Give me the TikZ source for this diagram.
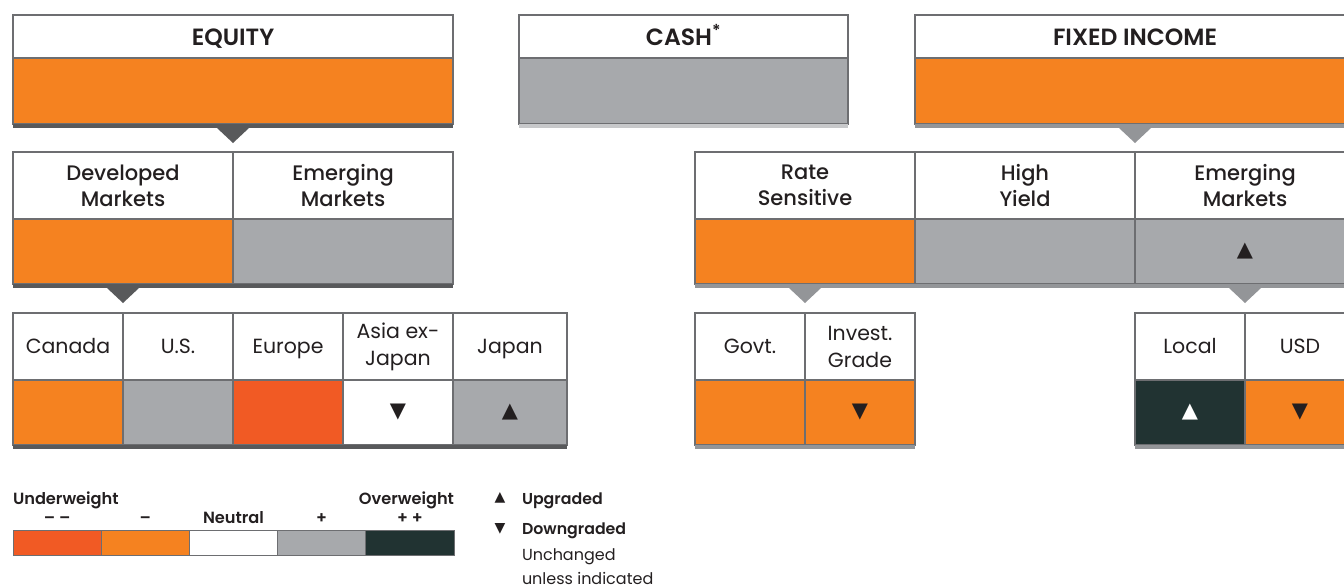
\documentclass[tikz,border=0pt]{standalone}
\usepackage{fontspec}
\setmainfont{Poppins}
\newfontfamily\semib{Poppins SemiBold}
\newfontfamily\medm{Poppins Medium}
\newfontfamily\symf{DejaVu Sans}
\usetikzlibrary{positioning}
\definecolor{orng}{HTML}{F58220}
\definecolor{redo}{HTML}{F15A24}
\definecolor{gry}{HTML}{A7A9AC}
\definecolor{drk}{HTML}{213332}
\definecolor{lineg}{HTML}{6D6E71}
\definecolor{bardk}{HTML}{58595B}
\definecolor{barmd}{HTML}{939598}
\definecolor{barlt}{HTML}{C7C8CA}
\definecolor{ink}{HTML}{231F20}
\begin{document}
\begin{tikzpicture}
[x=1pt,y=-1pt,
every node/.style={inner sep=0pt,outer sep=0pt,text=ink},
top/.style={draw=lineg,line width=1.2pt,fill=white,anchor=north west,minimum height=43pt,
  text height=20pt,text depth=1.5pt,font=\semib\fontsize{23.5}{26}\selectfont},
mid/.style={draw=lineg,line width=1.2pt,fill=white,anchor=north west,minimum height=67pt,align=center,
  font=\medm\fontsize{21}{26}\selectfont},
low/.style={draw=lineg,line width=1.2pt,fill=white,anchor=north west,minimum height=67pt,align=center,
  text height=17pt,text depth=2.6pt,font=\fontsize{20.5}{27}\selectfont},
two/.style={text height={},text depth={}},
band/.style={draw=lineg,line width=1.2pt,fill=#1,minimum height=65pt,font=\symf\fontsize{21}{21}\selectfont},
key/.style={draw=lineg,line width=0.8pt,fill=#1,minimum width=88.2pt,minimum height=25pt},
lgl/.style={font=\semib\fontsize{16.2}{16}\selectfont},
]
\useasboundingbox (0,0) rectangle (1344,587);

\node[top,minimum width=440pt] (eq) at (13,15) {EQUITY};
\node[band=orng,minimum width=440pt,minimum height=66pt,below=0pt of eq] (eqc) {};
\node[top,minimum width=329pt] (cash) at (519,15) {CASH\textsuperscript{*}};
\node[band=gry,minimum width=329pt,minimum height=66pt,below=0pt of cash] (cashc) {};
\node[top,minimum width=440pt] (fi) at (915,15) {FIXED INCOME};
\node[band=orng,minimum width=440pt,minimum height=66pt,below=0pt of fi] (fic) {};

\node[mid,minimum width=220pt] (dm) at (13,152) {Developed\\Markets};
\node[mid,minimum width=220pt,right=0pt of dm] (em) {Emerging\\Markets};
\node[band=orng,minimum width=220pt,below=0pt of dm] (dmc) {};
\node[band=gry,minimum width=220pt,below=0pt of em] (emc) {};
\node[mid,minimum width=220pt] (rs) at (695,152) {Rate\\Sensitive};
\node[mid,minimum width=220pt,right=0pt of rs] (hy) {High\\Yield};
\node[mid,minimum width=220pt,right=0pt of hy] (fem) {Emerging\\Markets};
\node[band=orng,minimum width=220pt,below=0pt of rs] (rsc) {};
\node[band=gry,minimum width=220pt,below=0pt of hy] (hyc) {};
\node[band=gry,minimum width=220pt,below=0pt of fem] (femc) {▲};

\node[low,minimum width=110pt] (ca) at (13,313) {Canada};
\node[low,minimum width=110pt,right=0pt of ca] (us) {U.S.};
\node[low,minimum width=110pt,right=0pt of us] (eu) {Europe};
\node[low,two,minimum width=110pt,right=0pt of eu] (ax) {Asia ex-\\Japan};
\node[low,minimum width=114pt,right=0pt of ax] (jp) {Japan};
\node[band=orng,minimum width=110pt,below=0pt of ca] (cac) {};
\node[band=gry,minimum width=110pt,below=0pt of us] (usc) {};
\node[band=redo,minimum width=110pt,below=0pt of eu] (euc) {};
\node[band=white,minimum width=110pt,below=0pt of ax] (axc) {▼};
\node[band=gry,minimum width=114pt,below=0pt of jp] (jpc) {▲};

\node[low,minimum width=110pt] (gv) at (695,313) {Govt.};
\node[low,two,minimum width=110pt,right=0pt of gv] (ig) {Invest.\\Grade};
\node[band=orng,minimum width=110pt,below=0pt of gv] (gvc) {};
\node[band=orng,minimum width=110pt,below=0pt of ig] (igc) {▼};
\node[low,minimum width=110pt] (lc) at (1135,313) {Local};
\node[low,minimum width=110pt,right=0pt of lc] (usd) {USD};
\node[band=drk,minimum width=110pt,below=0pt of lc,text=white] (lcc) {▲};
\node[band=orng,minimum width=110pt,below=0pt of usd] (usdc) {▼};

\foreach \c/\k in {eqc/bardk,cashc/barlt,fic/barmd,dmc/bardk,emc/bardk,rsc/barmd,hyc/barmd,femc/barmd,
  cac/bardk,usc/bardk,euc/bardk,axc/bardk,jpc/bardk,gvc/barmd,igc/barmd,lcc/barmd,usdc/barmd}
  \fill[\k] (\c.south west) rectangle ([yshift=-4pt]\c.south east);
\foreach \c/\k in {eqc/bardk,fic/barmd,dmc/bardk,rsc/barmd,femc/barmd}
  \fill[\k] ([xshift=-16pt,yshift=-4pt]\c.south) -- ([xshift=16pt,yshift=-4pt]\c.south)
    -- ([yshift=-19pt]\c.south) -- cycle;

\node[key=redo,anchor=north west] (k1) at (13,530) {};
\node[key=orng,right=0pt of k1] (k2) {};
\node[key=white,right=0pt of k2] (k3) {};
\node[key=gry,right=0pt of k3] (k4) {};
\node[key=drk,right=0pt of k4] (k5) {};
\node[lgl,anchor=base] (t1) at ([yshift=7pt]k1.north) {– –};
\node[lgl,anchor=base] (t2) at ([yshift=7pt]k2.north) {–};
\node[lgl,anchor=base] (t3) at ([yshift=7pt]k3.north) {Neutral};
\node[lgl,anchor=base] (t4) at ([yshift=7pt]k4.north) {+};
\node[lgl,anchor=base] (t5) at ([yshift=7pt]k5.north) {+ +};
\node[lgl,anchor=base west] (uw) at (13,504) {Underweight};
\node[lgl,anchor=base east] (ow) at (454,504) {Overweight};

\node[font=\symf\fontsize{14}{14}\selectfont] (su) at (500,498) {▲};
\node[lgl,anchor=base west,font=\semib\fontsize{15.8}{16}\selectfont] (lu) at (522,504) {Upgraded};
\node[font=\symf\fontsize{14}{14}\selectfont] (sd) at (500,529) {▼};
\node[lgl,anchor=base west,font=\semib\fontsize{15.8}{16}\selectfont] (ld) at (522,534) {Downgraded};
\node[anchor=base west,font=\fontsize{16}{16}\selectfont] (lx) at (522,560) {Unchanged};
\node[anchor=base west,font=\fontsize{16}{16}\selectfont] (ly) at (522,584) {unless indicated};
\end{tikzpicture}
\end{document}
